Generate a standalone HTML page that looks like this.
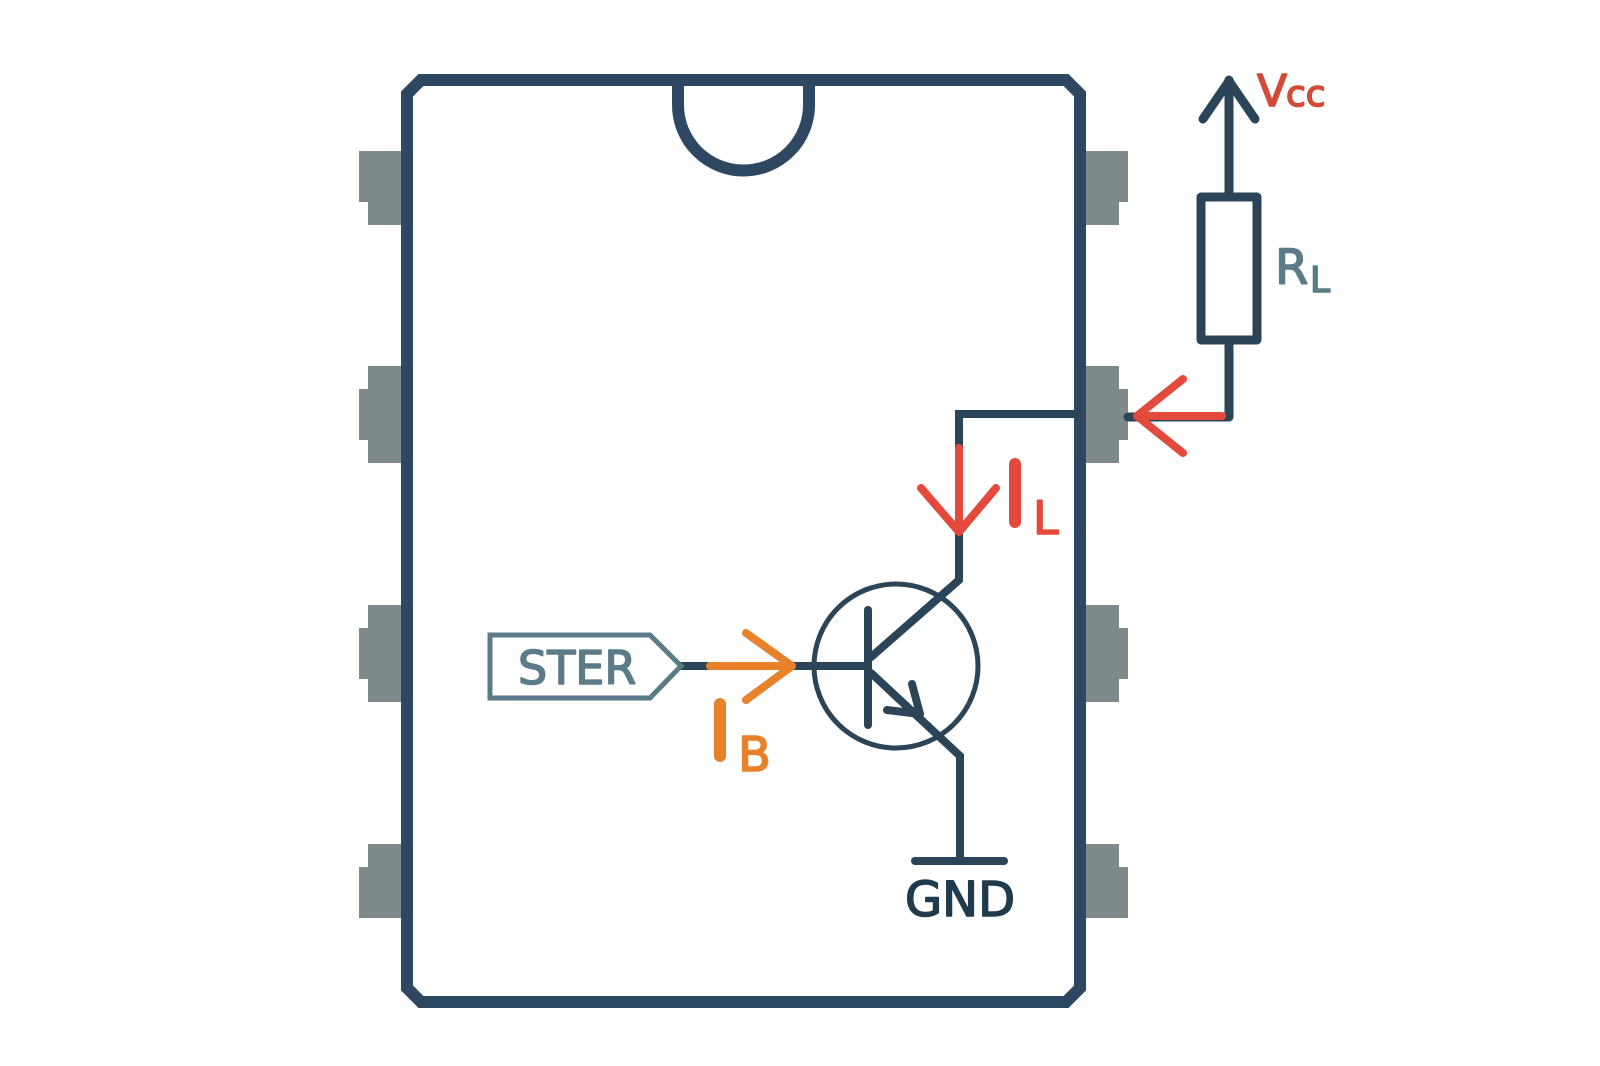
<!DOCTYPE html>
<html><head><meta charset="utf-8"><style>
html,body{margin:0;padding:0;background:#fff}
svg{display:block}
text{font-family:"DejaVu Sans","Liberation Sans",sans-serif;stroke-width:1.6;stroke-linejoin:round}
</style></head><body>
<svg width="1600" height="1066" viewBox="0 0 1600 1066" xmlns="http://www.w3.org/2000/svg">
<rect width="1600" height="1066" fill="#fff"/>
<g fill="#7f8b8a">
<rect x="368" y="151" width="34" height="74"/><rect x="359" y="151" width="10" height="51"/>
<rect x="368" y="366" width="34" height="97"/><rect x="359" y="389" width="10" height="51"/>
<rect x="368" y="605" width="34" height="97"/><rect x="359" y="628" width="10" height="51"/>
<rect x="368" y="844" width="34" height="74"/><rect x="359" y="867" width="10" height="51"/>
<rect x="1086" y="151" width="33" height="74"/><rect x="1118" y="151" width="10" height="51"/>
<rect x="1086" y="366" width="33" height="97"/><rect x="1118" y="389" width="10" height="51"/>
<rect x="1086" y="605" width="33" height="97"/><rect x="1118" y="628" width="10" height="51"/>
<rect x="1086" y="844" width="33" height="74"/><rect x="1118" y="867" width="10" height="51"/>
</g>
<path d="M421 80 H1066 L1080 94 V988 L1066 1002 H421 L407 988 V94 Z" fill="none" stroke="#2f4862" stroke-width="12"/>
<path d="M678 80 V105 A65.5 65.5 0 0 0 809 105 V80" fill="none" stroke="#2f4862" stroke-width="12"/>
<g stroke="#2b4457" stroke-width="9" fill="none" stroke-linecap="round" stroke-linejoin="round">
<line x1="1229" y1="80" x2="1229" y2="197"/>
<polyline points="1203,119 1229,81 1255,119"/>
<rect x="1201" y="197" width="56" height="143"/>
<polyline points="1229,340 1229,417 1128,417"/>
</g>
<g stroke="#e34a3b" stroke-width="8" fill="none" stroke-linecap="round" stroke-linejoin="round">
<line x1="1222" y1="416" x2="1140" y2="416"/>
<polyline points="1183,379 1137,416 1183,453"/>
</g>
<text x="1257" y="106" font-size="44" fill="#d24a36" stroke="#d24a36">V</text>
<text x="1286" y="106" font-size="36" fill="#d24a36" stroke="#d24a36">cc</text>
<text x="1275" y="284" font-size="48" fill="#5a7b87" stroke="#5a7b87">R</text>
<text x="1310" y="292" font-size="36" fill="#5a7b87" stroke="#5a7b87">L</text>
<g stroke="#2b4457" stroke-width="8" fill="none">
<polyline points="1080,414 959,414 959,450"/>
<polyline points="959,530 959,580 870,658"/>
<polyline points="870,672 960,756 960,862"/>
<line x1="915" y1="861" x2="1004" y2="861" stroke-linecap="round"/>
<line x1="868" y1="610" x2="868" y2="725" stroke-linecap="round"/>
<line x1="680" y1="666" x2="868" y2="666"/>
</g>
<circle cx="896" cy="666" r="82" fill="none" stroke="#2b4457" stroke-width="5"/>
<polyline points="912,684 920,714 887,710" fill="none" stroke="#2b4457" stroke-width="8" stroke-linecap="round" stroke-linejoin="round"/>
<g stroke="#e34a3b" stroke-width="8" fill="none" stroke-linecap="round" stroke-linejoin="round">
<line x1="959" y1="448" x2="959" y2="530"/>
<polyline points="921,488 959,532 996,488"/>
<line x1="1015" y1="464" x2="1015" y2="522" stroke-width="12"/>
</g>
<text x="1033" y="534" font-size="46" fill="#e34a3b" stroke="#e34a3b">L</text>
<path d="M490 635 H650 L681 666 L650 698 H490 Z" fill="none" stroke="#5a7b87" stroke-width="5"/>
<text x="518" y="684" font-size="46" fill="#5a7b87" stroke="#5a7b87">STER</text>
<g stroke="#e8822a" stroke-width="8" fill="none" stroke-linecap="round" stroke-linejoin="round">
<line x1="710" y1="666" x2="790" y2="666"/>
<polyline points="746,633 792,666 746,700"/>
<line x1="720" y1="704" x2="720" y2="756" stroke-width="12"/>
</g>
<text x="738" y="771" font-size="48" fill="#e8822a" stroke="#e8822a" stroke-width="2.5">B</text>
<text x="960" y="916" font-size="48" fill="#1f3b4d" stroke="#1f3b4d" stroke-width="2" text-anchor="middle">GND</text>
</svg>
</body></html>
